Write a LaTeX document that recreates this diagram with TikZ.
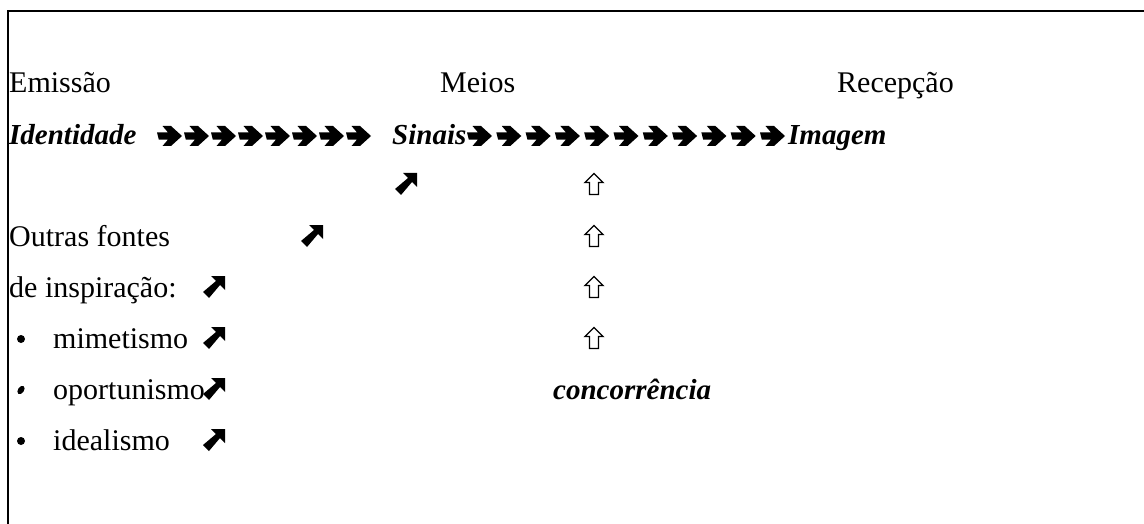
\documentclass[tikz,border=0pt]{standalone}
\usepackage{fontspec}
\setmainfont{Liberation Serif}
\begin{document}
\begin{tikzpicture}[x=1pt,y=-1pt,
  lbl/.style={anchor=base west,inner sep=0pt,font=\fontsize{30}{36}\selectfont},
  bilbl/.style={lbl,font=\fontsize{29}{35}\selectfont\bfseries\itshape},
  bul/.style={circle,fill,inner sep=0pt,minimum size=8pt},
  rarr/.pic={\fill (0,-3.6) -- (11,-3.6) -- (5.5,-10) -- (14,-10) -- (25,0) -- (14,10) -- (5.5,10) -- (11,3.6) -- (1.8,3.6) -- cycle;},
  nearr/.pic={\fill (-3,-11) -- (11,-11) -- (11,3) -- (6,-2) -- (-5,11) -- (-11,5) -- (2,-6) -- cycle;},
  uparr/.pic={\draw[line width=1.3pt,line join=miter] (0,-10.5) -- (9,-1.5) -- (4.5,-1.5) -- (4.5,10.5) -- (-4.5,10.5) -- (-4.5,-1.5) -- (-9,-1.5) -- cycle;}
]
\useasboundingbox (0,0) rectangle (1144,524);
\draw[line width=2pt] (8,524) -- (8,11) -- (1144,11);
% header row
\node[lbl] (emissao) at (9,93) {Emissão};
\node[lbl] (meios) at (440,93) {Meios};
\node[lbl] (recepcao) at (837,93) {Recepção};
% main row
\node[bilbl] (identidade) at (9,145) {Identidade};
\foreach \i in {0,...,7} {\pic at ({157+27*\i},136) {rarr};}
\node[bilbl] (sinais) at (392,145) {Sinais};
\foreach \i in {0,...,10} {\pic at ({467+29.3*\i},136) {rarr};}
\node[bilbl] (imagem) at (788,145) {Imagem};
% symbol row
\pic at (406,184) {nearr};
\foreach \yy in {184,236,287,338} {\pic at (594,\yy) {uparr};}
% left column
\node[lbl] (outras) at (9,246) {Outras fontes};
\pic at (312,236) {nearr};
\node[lbl] (inspiracao) at (9,297) {de inspiração:};
\pic at (214,287) {nearr};
\node[bul] (b1) at (21,339) {};
\node[lbl] (mimetismo) at (53,348) {mimetismo};
\pic at (214,338) {nearr};
\coordinate (b2) at (21,390);
\fill[rotate around={-35:(b2)}] (b2) ellipse [x radius=3pt, y radius=4.6pt];
\node[lbl] (oportunismo) at (53,399) {oportunismo};
\pic at (214,389) {nearr};
\node[bilbl] (concorrencia) at (553,399) {concorrência};
\node[bul] (b3) at (21,441) {};
\node[lbl] (idealismo) at (53,450) {idealismo};
\pic at (214,440) {nearr};
\end{tikzpicture}
\end{document}
